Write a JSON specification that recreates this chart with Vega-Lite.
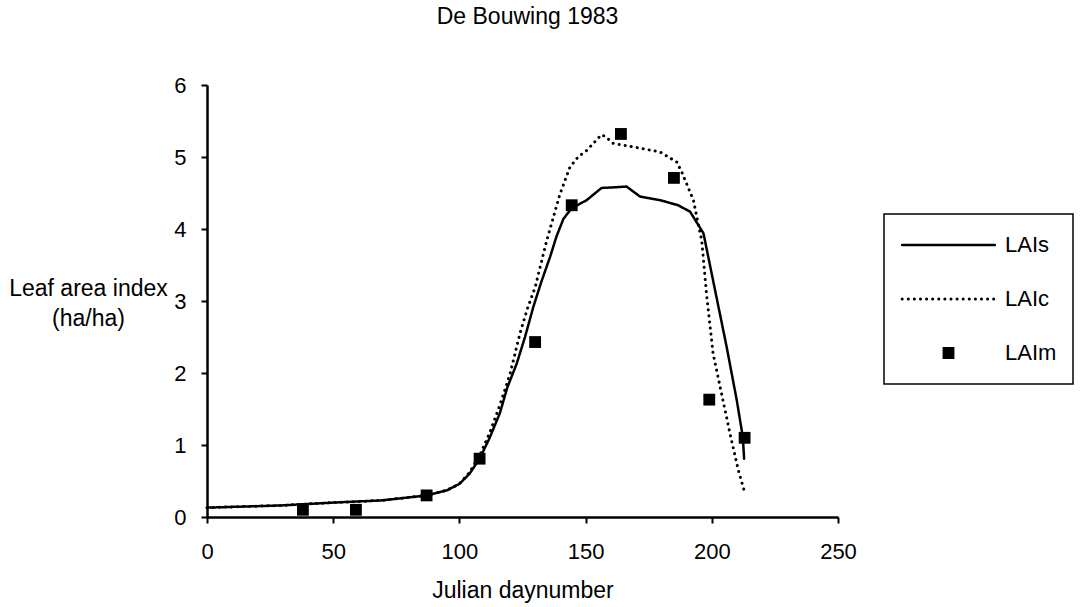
{
  "$schema": "https://vega.github.io/schema/vega-lite/v6.json",
  "autosize": "none",
  "width": 631,
  "height": 432,
  "padding": {"left": 207, "top": 85, "right": 247, "bottom": 90},
  "background": "white",
  "config": {
    "font": "Liberation Sans",
    "view": {"stroke": null},
    "axis": {"grid": false, "domainColor": "black", "domainWidth": 2.5, "tickColor": "black", "tickWidth": 2, "tickSize": 6, "labelFontSize": 22, "labelColor": "black", "titleFontSize": 23, "titleFontWeight": "normal", "titleColor": "black", "labelFont": "Liberation Sans", "titleFont": "Liberation Sans", "labelFlush": false}
  },
  "title": {"text": "De Bouwing 1983", "fontSize": 23, "fontWeight": "normal", "font": "Liberation Sans", "color": "black", "anchor": "middle", "baseline": "alphabetic", "offset": 27, "dx": 5},
  "data": {"values": [
    {"series": "LAIs", "day": 0, "lai": 0.13},
    {"series": "LAIs", "day": 29, "lai": 0.16},
    {"series": "LAIs", "day": 50, "lai": 0.2},
    {"series": "LAIs", "day": 69, "lai": 0.23},
    {"series": "LAIs", "day": 82, "lai": 0.28},
    {"series": "LAIs", "day": 87, "lai": 0.3},
    {"series": "LAIs", "day": 95, "lai": 0.37},
    {"series": "LAIs", "day": 100, "lai": 0.46},
    {"series": "LAIs", "day": 104, "lai": 0.6},
    {"series": "LAIs", "day": 108, "lai": 0.81},
    {"series": "LAIs", "day": 112, "lai": 1.1},
    {"series": "LAIs", "day": 116, "lai": 1.44},
    {"series": "LAIs", "day": 119, "lai": 1.8},
    {"series": "LAIs", "day": 122.7, "lai": 2.13},
    {"series": "LAIs", "day": 126, "lai": 2.5},
    {"series": "LAIs", "day": 129.3, "lai": 2.92},
    {"series": "LAIs", "day": 132.5, "lai": 3.27},
    {"series": "LAIs", "day": 135.9, "lai": 3.61},
    {"series": "LAIs", "day": 138.5, "lai": 3.9},
    {"series": "LAIs", "day": 141.2, "lai": 4.14},
    {"series": "LAIs", "day": 144.5, "lai": 4.29},
    {"series": "LAIs", "day": 150.4, "lai": 4.4},
    {"series": "LAIs", "day": 156.3, "lai": 4.57},
    {"series": "LAIs", "day": 162, "lai": 4.58},
    {"series": "LAIs", "day": 166.2, "lai": 4.59},
    {"series": "LAIs", "day": 171.6, "lai": 4.45},
    {"series": "LAIs", "day": 179.5, "lai": 4.4},
    {"series": "LAIs", "day": 186.7, "lai": 4.33},
    {"series": "LAIs", "day": 191.4, "lai": 4.24},
    {"series": "LAIs", "day": 196.7, "lai": 3.94},
    {"series": "LAIs", "day": 201.3, "lai": 3.15},
    {"series": "LAIs", "day": 205.9, "lai": 2.36},
    {"series": "LAIs", "day": 209.9, "lai": 1.62},
    {"series": "LAIs", "day": 212.3, "lai": 1.11},
    {"series": "LAIs", "day": 212.8, "lai": 0.81},
    {"series": "LAIc", "day": 0, "lai": 0.13},
    {"series": "LAIc", "day": 29, "lai": 0.16},
    {"series": "LAIc", "day": 50, "lai": 0.2},
    {"series": "LAIc", "day": 69, "lai": 0.23},
    {"series": "LAIc", "day": 82, "lai": 0.28},
    {"series": "LAIc", "day": 87, "lai": 0.3},
    {"series": "LAIc", "day": 95, "lai": 0.37},
    {"series": "LAIc", "day": 100, "lai": 0.46},
    {"series": "LAIc", "day": 104, "lai": 0.62},
    {"series": "LAIc", "day": 108, "lai": 0.85},
    {"series": "LAIc", "day": 112, "lai": 1.17},
    {"series": "LAIc", "day": 116, "lai": 1.55},
    {"series": "LAIc", "day": 120, "lai": 1.98},
    {"series": "LAIc", "day": 124, "lai": 2.55},
    {"series": "LAIc", "day": 127, "lai": 2.9},
    {"series": "LAIc", "day": 130, "lai": 3.19},
    {"series": "LAIc", "day": 134.6, "lai": 3.84},
    {"series": "LAIc", "day": 139.9, "lai": 4.49},
    {"series": "LAIc", "day": 143.8, "lai": 4.86},
    {"series": "LAIc", "day": 147, "lai": 5.0},
    {"series": "LAIc", "day": 150.4, "lai": 5.09},
    {"series": "LAIc", "day": 156.3, "lai": 5.31},
    {"series": "LAIc", "day": 158, "lai": 5.28},
    {"series": "LAIc", "day": 160.9, "lai": 5.19},
    {"series": "LAIc", "day": 168.9, "lai": 5.14},
    {"series": "LAIc", "day": 179.5, "lai": 5.07},
    {"series": "LAIc", "day": 186.1, "lai": 4.93},
    {"series": "LAIc", "day": 188, "lai": 4.8},
    {"series": "LAIc", "day": 190, "lai": 4.63},
    {"series": "LAIc", "day": 192.7, "lai": 4.4},
    {"series": "LAIc", "day": 196, "lai": 3.84},
    {"series": "LAIc", "day": 197.9, "lai": 3.1},
    {"series": "LAIc", "day": 200.5, "lai": 2.27},
    {"series": "LAIc", "day": 203.9, "lai": 1.71},
    {"series": "LAIc", "day": 207.2, "lai": 1.16},
    {"series": "LAIc", "day": 210.5, "lai": 0.65},
    {"series": "LAIc", "day": 213.2, "lai": 0.32},
    {"series": "LAIm", "day": 38, "lai": 0.1},
    {"series": "LAIm", "day": 59, "lai": 0.1},
    {"series": "LAIm", "day": 87, "lai": 0.3},
    {"series": "LAIm", "day": 108, "lai": 0.81},
    {"series": "LAIm", "day": 130, "lai": 2.43},
    {"series": "LAIm", "day": 144.5, "lai": 4.33},
    {"series": "LAIm", "day": 164, "lai": 5.32},
    {"series": "LAIm", "day": 185, "lai": 4.71},
    {"series": "LAIm", "day": 199, "lai": 1.63},
    {"series": "LAIm", "day": 213, "lai": 1.1}
  ]},
  "encoding": {
    "x": {"field": "day", "type": "quantitative", "scale": {"domain": [0, 250], "nice": false, "zero": false},
      "axis": {"values": [0, 50, 100, 150, 200, 250], "title": "Julian daynumber", "labelPadding": 18, "titleY": 73, "titleBaseline": "middle"}},
    "y": {"field": "lai", "type": "quantitative", "scale": {"domain": [0, 6], "nice": false},
      "axis": {"values": [0, 1, 2, 3, 4, 5, 6], "title": ["Leaf area index", "(ha/ha)"], "labelPadding": 15, "titleAngle": 0, "titleAlign": "center", "titleBaseline": "middle", "titleX": -119, "titleY": 203, "titleLineHeight": 30}},
    "color": {"field": "series", "type": "nominal",
      "scale": {"domain": ["LAIs", "LAIc", "LAIm"], "range": ["black", "black", "black"]},
      "legend": {
        "orient": "none", "legendX": 677, "legendY": 129, "direction": "vertical", "title": null,
        "strokeColor": "black", "padding": 16, "symbolSize": 8600, "clipHeight": 30, "rowPadding": 24,
        "symbolOffset": 37.5, "labelOffset": 45.5, "labelFontSize": 22, "labelFont": "Liberation Sans", "labelColor": "black",
        "encode": {
          "legend": {"update": {"strokeWidth": {"value": 1.5}}},
          "symbols": {"update": {
            "shape": {"signal": "datum.value === 'LAIm' ? 'square' : 'stroke'"},
            "size": {"signal": "datum.value === 'LAIm' ? 140 : 8600"},
            "strokeDash": {"signal": "datum.value === 'LAIc' ? [0.1, 6] : [1, 0]"},
            "strokeCap": {"value": "round"},
            "strokeWidth": {"signal": "datum.value === 'LAIm' ? 0 : (datum.value === 'LAIc' ? 3 : 2.5)"},
            "stroke": {"value": "black"},
            "fill": {"value": "black"},
            "opacity": {"value": 1}
          }}
        }
      }}
  },
  "layer": [
    {
      "transform": [{"filter": "datum.series !== 'LAIm'"}],
      "mark": {"type": "line", "strokeCap": "round", "strokeJoin": "round"},
      "encoding": {
        "strokeDash": {"field": "series", "type": "nominal", "scale": {"domain": ["LAIs", "LAIc"], "range": [[1, 0], [0.1, 6]]}, "legend": null},
        "strokeWidth": {"field": "series", "type": "nominal", "scale": {"domain": ["LAIs", "LAIc"], "range": [2.5, 3]}, "legend": null}
      }
    },
    {
      "transform": [{"filter": "datum.series === 'LAIm'"}],
      "mark": {"type": "point", "shape": "square", "filled": true, "size": 140, "opacity": 1}
    }
  ]
}
